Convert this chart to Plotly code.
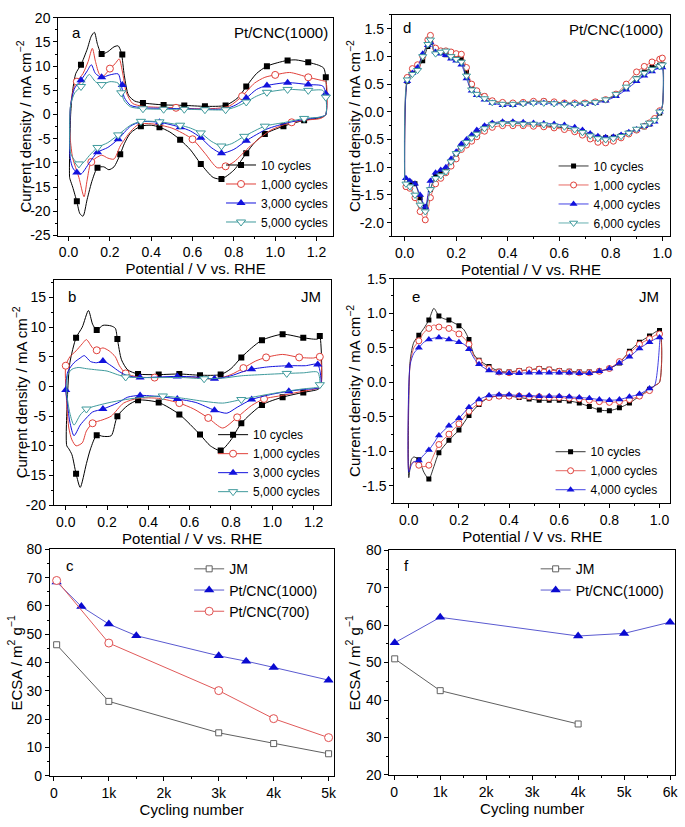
import plotly.graph_objects as go

FONT = "Liberation Sans, Arial, sans-serif"
W, H = 685, 827

# ======================= DATA =======================
# ---- panel a : Pt/CNC(1000), CV curves (potential V, current mA cm-2)
A10_UP_X = [0.005, 0.01, 0.02, 0.035, 0.06, 0.09, 0.11, 0.125, 0.14, 0.16, 0.19, 0.22, 0.24, 0.255, 0.27, 0.29, 0.32, 0.36, 0.46, 0.56, 0.66, 0.76, 0.82, 0.86, 0.91, 0.96, 1.01, 1.06, 1.10, 1.16, 1.21, 1.235, 1.245]
A10_UP_Y = [-13, 0, 5, 8.5, 10.3, 13.5, 16.2, 17.0, 14.5, 12.5, 13.0, 14.0, 14.2, 12.8, 8, 4, 2.8, 2.4, 2.0, 1.9, 1.7, 1.9, 3.5, 5.8, 8.5, 10.0, 10.7, 11.2, 11.3, 10.8, 10.2, 9.6, 7.7]
A10_DN_X = [1.245, 1.23, 1.2, 1.14, 1.04, 0.95, 0.9, 0.86, 0.8, 0.74, 0.7, 0.64, 0.59, 0.54, 0.49, 0.44, 0.4, 0.35, 0.3, 0.27, 0.25, 0.22, 0.195, 0.17, 0.14, 0.115, 0.09, 0.07, 0.055, 0.04, 0.02, 0.008, 0.005]
A10_DN_Y = [0.0, -0.5, -0.8, -1.2, -2.4, -4.0, -5.8, -8.0, -11.5, -13.3, -13.0, -10.2, -7.3, -5.2, -3.6, -2.6, -2.2, -2.4, -3.8, -6.0, -8.2, -10.8, -11.4, -10.8, -11.0, -13.5, -17.5, -21.0, -20.5, -18.0, -15.0, -13.5, -13.0]
A10_MX = [0.06, 0.16, 0.26, 0.36, 0.46, 0.56, 0.66, 0.76, 0.86, 0.96, 1.06, 1.16, 1.245, 1.14, 1.04, 0.95, 0.86, 0.74, 0.64, 0.54, 0.44, 0.35, 0.25, 0.14, 0.04]
A10_MY = [10.3, 12.5, 12.4, 2.4, 2.0, 1.9, 1.7, 1.9, 5.8, 10.0, 11.2, 10.8, 7.7, -1.2, -2.4, -4.0, -8.0, -13.3, -10.2, -5.2, -2.6, -2.4, -8.2, -11.0, -17.9]

A1K_UP_X = [0.005, 0.01, 0.025, 0.04, 0.07, 0.095, 0.115, 0.13, 0.15, 0.17, 0.2, 0.225, 0.245, 0.26, 0.28, 0.31, 0.36, 0.44, 0.52, 0.62, 0.72, 0.78, 0.84, 0.9, 0.95, 1.0, 1.07, 1.16, 1.23, 1.245]
A1K_UP_Y = [-3, 2, 5.5, 6.8, 8.5, 11, 13.7, 11.0, 8.3, 8.0, 9.5, 10.5, 11.5, 9.0, 4.5, 2.3, 1.7, 1.5, 1.4, 1.2, 1.3, 1.8, 3.8, 6.5, 7.7, 8.2, 8.7, 7.7, 7.0, 6.8]
A1K_DN_X = [1.245, 1.22, 1.16, 1.08, 0.98, 0.88, 0.8, 0.76, 0.72, 0.66, 0.6, 0.5, 0.4, 0.34, 0.3, 0.25, 0.22, 0.19, 0.16, 0.11, 0.09, 0.075, 0.05, 0.02, 0.008, 0.005]
A1K_DN_Y = [0.0, -0.8, -1.1, -1.6, -3.2, -6.5, -9.8, -10.7, -11.0, -8.0, -5.1, -2.8, -1.9, -2.0, -3.5, -6.5, -9.2, -9.0, -8.4, -9.8, -13.5, -17.0, -13.0, -9.0, -5.0, -3.0]
A1K_MX = [0.04, 0.2, 0.52, 0.84, 1.0, 1.16, 1.08, 0.76, 0.6, 0.11]
A1K_MY = [6.8, 9.5, 1.4, 3.8, 8.2, 7.7, -1.6, -10.7, -5.1, -9.8]

A3K_UP_X = [0.005, 0.01, 0.03, 0.06, 0.09, 0.11, 0.13, 0.16, 0.2, 0.24, 0.255, 0.27, 0.3, 0.36, 0.46, 0.56, 0.66, 0.76, 0.81, 0.86, 0.91, 0.96, 1.06, 1.16, 1.23, 1.245]
A3K_UP_Y = [-5, 2, 5.5, 7.1, 9.0, 10.3, 8.5, 7.7, 8.2, 8.4, 6.1, 3.5, 1.9, 1.4, 1.3, 1.2, 1.1, 1.2, 2.0, 3.4, 5.2, 6.0, 6.6, 6.2, 5.9, 4.3]
A3K_DN_X = [1.245, 1.22, 1.14, 1.06, 0.96, 0.86, 0.8, 0.74, 0.69, 0.64, 0.59, 0.54, 0.44, 0.35, 0.3, 0.24, 0.19, 0.14, 0.1, 0.06, 0.04, 0.02, 0.008, 0.005]
A3K_DN_Y = [0.0, -0.5, -1.0, -1.7, -3.0, -5.4, -7.2, -8.0, -6.8, -4.8, -3.4, -2.6, -1.6, -1.5, -2.4, -5.1, -6.8, -7.8, -10.0, -12.3, -12.0, -11.0, -9.0, -5.0]
A3K_MX = [0.06, 0.16, 0.26, 0.86, 0.96, 1.06, 1.16, 1.245, 0.86, 0.74, 0.64, 0.54, 0.44, 0.24, 0.14, 0.04]
A3K_MY = [7.1, 7.7, 6.1, 3.4, 6.0, 6.6, 6.2, 4.3, -5.4, -8.0, -4.8, -2.6, -1.6, -5.1, -7.8, -12.0]

A5K_UP_X = [0.005, 0.01, 0.03, 0.06, 0.08, 0.10, 0.13, 0.16, 0.2, 0.24, 0.255, 0.27, 0.3, 0.36, 0.46, 0.56, 0.66, 0.76, 0.81, 0.86, 0.91, 0.96, 1.06, 1.16, 1.23, 1.245]
A5K_UP_Y = [-4, 2, 4.5, 5.8, 7.2, 8.3, 6.8, 6.2, 6.8, 6.5, 4.5, 2.8, 1.6, 1.2, 1.1, 1.1, 1.0, 1.0, 1.6, 2.6, 3.8, 4.6, 5.2, 5.0, 5.0, 3.6]
A5K_DN_X = [1.245, 1.22, 1.14, 1.05, 0.95, 0.85, 0.79, 0.74, 0.69, 0.64, 0.59, 0.54, 0.44, 0.35, 0.3, 0.24, 0.19, 0.14, 0.1, 0.07, 0.05, 0.03, 0.01, 0.005]
A5K_DN_Y = [0.0, -0.5, -0.8, -1.6, -2.4, -4.5, -6.0, -6.5, -5.5, -3.8, -2.8, -2.2, -1.5, -1.4, -2.2, -4.2, -5.8, -6.8, -8.5, -10.0, -10.2, -9.5, -8.0, -4.0]
A5K_MX = [0.06, 0.16, 0.255, 0.36, 0.46, 0.56, 0.66, 0.76, 0.86, 0.96, 1.06, 1.16, 1.245, 1.14, 0.95, 0.85, 0.74, 0.64, 0.54, 0.44, 0.35, 0.24, 0.14, 0.05]
A5K_MY = [5.8, 6.2, 4.5, 1.2, 1.1, 1.1, 1.0, 1.0, 2.6, 4.6, 5.2, 5.0, 3.6, -0.8, -2.4, -4.5, -6.5, -3.8, -2.2, -1.5, -1.4, -4.2, -6.8, -10.2]

# ---- panel b : JM, CV curves
B10_UP_X = [0.005, 0.008, 0.02, 0.05, 0.08, 0.11, 0.13, 0.15, 0.18, 0.22, 0.24, 0.25, 0.27, 0.3, 0.35, 0.45, 0.55, 0.65, 0.75, 0.8, 0.85, 0.9, 0.95, 1.05, 1.15, 1.22, 1.23]
B10_UP_Y = [-10, -2, 4, 8.2, 10, 12.8, 10.5, 9.5, 10.3, 10.2, 9.8, 8.0, 4.5, 2.8, 2.1, 2.0, 2.1, 1.9, 2.0, 3.0, 4.9, 6.5, 7.8, 8.8, 8.2, 8.0, 8.5]
B10_DN_X = [1.235, 1.22, 1.15, 1.05, 0.95, 0.85, 0.8, 0.75, 0.7, 0.65, 0.55, 0.45, 0.35, 0.3, 0.25, 0.22, 0.18, 0.15, 0.12, 0.1, 0.07, 0.05, 0.03, 0.015, 0.005]
B10_DN_Y = [0.0, -0.5, -1.0, -1.8, -3.1, -6.2, -9.0, -10.8, -10.0, -8.1, -4.7, -2.7, -2.3, -3.2, -5.0, -8.3, -8.4, -8.2, -10.5, -13.0, -17.0, -14.7, -11.5, -10.5, -10.0]
B10_MX = [0.05, 0.15, 0.25, 0.35, 0.45, 0.55, 0.65, 0.75, 0.85, 0.95, 1.05, 1.15, 1.23, 1.15, 1.05, 0.95, 0.85, 0.75, 0.65, 0.55, 0.45, 0.35, 0.25, 0.15, 0.05]
B10_MY = [8.2, 9.5, 8.0, 2.1, 2.0, 2.1, 1.9, 2.0, 4.9, 7.8, 8.8, 8.2, 8.5, -1.0, -1.8, -3.1, -6.2, -10.8, -8.1, -4.7, -2.7, -2.3, -5.0, -8.2, -14.7]

B1K_UP_X = [0.0, 0.02, 0.05, 0.08, 0.10, 0.13, 0.15, 0.18, 0.21, 0.24, 0.26, 0.29, 0.35, 0.43, 0.55, 0.65, 0.72, 0.8, 0.86, 0.92, 0.97, 1.05, 1.13, 1.2, 1.23]
B1K_UP_Y = [3.5, 5.0, 6.0, 7.2, 7.9, 6.5, 6.1, 6.5, 6.0, 5.0, 3.5, 2.2, 1.6, 1.5, 1.6, 1.5, 1.2, 2.0, 3.1, 4.3, 4.9, 5.4, 4.9, 4.8, 5.0]
B1K_DN_X = [1.235, 1.22, 1.12, 1.05, 0.96, 0.9, 0.83, 0.76, 0.69, 0.62, 0.55, 0.45, 0.35, 0.28, 0.22, 0.18, 0.13, 0.1, 0.08, 0.05, 0.03, 0.015, 0.005, 0.0]
B1K_DN_Y = [0.0, -0.3, -1.0, -1.5, -2.1, -3.2, -5.2, -7.0, -5.3, -3.8, -2.8, -2.0, -2.0, -2.8, -5.0, -5.6, -6.2, -7.5, -9.5, -10.0, -9.0, -7.0, -3.0, 3.5]
B1K_MX = [0.0, 0.15, 0.29, 0.43, 0.86, 0.97, 1.13, 1.23, 0.96, 0.83, 0.69, 0.55, 0.13]
B1K_MY = [3.5, 6.1, 2.2, 1.5, 3.1, 4.9, 4.9, 5.0, -2.1, -5.2, -5.3, -2.8, -6.2]

B3K_UP_X = [0.0, 0.01, 0.04, 0.07, 0.09, 0.12, 0.15, 0.18, 0.22, 0.26, 0.3, 0.36, 0.45, 0.54, 0.63, 0.72, 0.8, 0.85, 0.9, 0.98, 1.08, 1.16, 1.22]
B3K_UP_Y = [-0.6, 2.5, 4.0, 4.8, 5.2, 4.2, 4.0, 4.3, 3.5, 2.5, 1.8, 1.5, 1.6, 1.7, 1.6, 1.3, 1.8, 2.4, 2.9, 3.3, 3.5, 3.5, 3.7]
B3K_DN_X = [1.235, 1.22, 1.15, 1.08, 1.0, 0.9, 0.83, 0.78, 0.72, 0.63, 0.54, 0.45, 0.36, 0.3, 0.25, 0.18, 0.13, 0.1, 0.07, 0.04, 0.02, 0.005, 0.0]
B3K_DN_Y = [0.0, -0.3, -0.5, -0.8, -1.3, -2.2, -3.5, -4.5, -4.0, -2.7, -2.1, -1.7, -1.5, -1.8, -2.8, -3.8, -4.3, -5.3, -6.5, -8.3, -6.0, -2.0, -0.6]
B3K_MX = [0.0, 0.18, 0.36, 0.54, 0.72, 0.9, 1.08, 1.22, 1.08, 0.9, 0.72, 0.54, 0.36, 0.18]
B3K_MY = [-0.6, 4.3, 1.5, 1.7, 1.3, 2.9, 3.5, 3.7, -0.8, -2.2, -4.0, -2.1, -1.5, -3.8]

B5K_UP_X = [0.005, 0.01, 0.03, 0.06, 0.1, 0.15, 0.2, 0.25, 0.29, 0.38, 0.47, 0.57, 0.67, 0.76, 0.85, 0.95, 1.07, 1.15, 1.22, 1.23]
B5K_UP_Y = [-1.0, 2.0, 2.9, 3.2, 3.0, 2.8, 2.6, 2.0, 1.6, 1.5, 1.5, 1.5, 1.3, 1.4, 1.8, 2.0, 2.2, 2.3, 2.4, 0.3]
B5K_DN_X = [1.22, 1.15, 1.07, 1.0, 0.92, 0.85, 0.76, 0.67, 0.57, 0.47, 0.38, 0.29, 0.2, 0.1, 0.07, 0.04, 0.02, 0.005]
B5K_DN_Y = [-0.1, -0.4, -0.8, -1.2, -1.7, -2.2, -2.8, -2.5, -2.0, -1.6, -1.8, -2.2, -2.8, -3.8, -4.8, -6.5, -4.5, -1.0]
B5K_MX = [0.29, 0.67, 1.07, 1.23, 0.85, 0.47, 0.1]
B5K_MY = [1.6, 1.3, 2.2, 0.3, -2.2, -1.6, -3.8]

# ---- panel d : Pt/CNC(1000), potential grids for anodic / cathodic sweeps
D_UP_X = [0.0, 0.01, 0.03, 0.05, 0.07, 0.09, 0.10, 0.12, 0.14, 0.16, 0.18, 0.20, 0.22, 0.24, 0.26, 0.28, 0.31, 0.34, 0.38, 0.42, 0.46, 0.50, 0.54, 0.58, 0.62, 0.66, 0.70, 0.74, 0.78, 0.82, 0.86, 0.90, 0.93, 0.96, 0.99, 1.0]
D_DN_X = [1.0, 0.99, 0.97, 0.95, 0.93, 0.90, 0.87, 0.84, 0.81, 0.78, 0.75, 0.72, 0.69, 0.66, 0.62, 0.58, 0.54, 0.50, 0.46, 0.42, 0.38, 0.34, 0.31, 0.28, 0.26, 0.24, 0.22, 0.20, 0.18, 0.16, 0.14, 0.12, 0.10, 0.08, 0.06, 0.04, 0.02, 0.005]
D10_UP = [-1.4, 0.55, 0.72, 0.80, 0.92, 1.18, 1.25, 1.12, 1.07, 1.03, 1.00, 0.97, 0.96, 0.72, 0.45, 0.36, 0.28, 0.20, 0.16, 0.15, 0.16, 0.18, 0.19, 0.17, 0.16, 0.15, 0.16, 0.18, 0.22, 0.30, 0.45, 0.60, 0.72, 0.80, 0.84, 0.85]
D1K_UP = [-1.4, 0.62, 0.78, 0.85, 1.0, 1.3, 1.38, 1.15, 1.1, 1.1, 1.08, 1.05, 1.04, 0.8, 0.5, 0.38, 0.28, 0.2, 0.17, 0.16, 0.17, 0.19, 0.19, 0.18, 0.16, 0.16, 0.16, 0.18, 0.22, 0.32, 0.5, 0.72, 0.82, 0.9, 0.95, 0.97]
D4K_UP = [-1.2, 0.55, 0.7, 0.8, 1.05, 1.2, 1.25, 1.08, 1.05, 1.02, 0.96, 0.92, 0.85, 0.6, 0.38, 0.3, 0.22, 0.16, 0.12, 0.12, 0.15, 0.16, 0.16, 0.15, 0.15, 0.14, 0.14, 0.16, 0.2, 0.28, 0.4, 0.55, 0.65, 0.73, 0.8, 0.8]
D6K_UP = [-1.3, 0.58, 0.68, 0.75, 1.0, 1.22, 1.3, 1.05, 1.08, 1.1, 1.0, 0.95, 0.9, 0.65, 0.4, 0.32, 0.24, 0.17, 0.14, 0.14, 0.15, 0.16, 0.16, 0.15, 0.14, 0.14, 0.15, 0.17, 0.22, 0.32, 0.45, 0.6, 0.7, 0.77, 0.82, 0.85]
D10_DN = [0.1, -0.02, -0.15, -0.22, -0.27, -0.33, -0.38, -0.43, -0.46, -0.47, -0.46, -0.42, -0.36, -0.32, -0.29, -0.27, -0.25, -0.23, -0.21, -0.2, -0.2, -0.22, -0.28, -0.38, -0.46, -0.55, -0.62, -0.75, -0.92, -1.05, -1.1, -1.15, -1.4, -1.72, -1.55, -1.3, -1.27, -1.35]
D1K_DN = [0.1, 0.02, -0.12, -0.2, -0.26, -0.33, -0.4, -0.47, -0.53, -0.56, -0.55, -0.49, -0.42, -0.36, -0.32, -0.29, -0.27, -0.26, -0.25, -0.25, -0.25, -0.28, -0.35, -0.45, -0.53, -0.6, -0.68, -0.85, -0.98, -1.1, -1.2, -1.3, -1.55, -1.95, -1.8, -1.55, -1.38, -1.35]
D4K_DN = [0.1, 0.0, -0.18, -0.23, -0.26, -0.32, -0.37, -0.42, -0.45, -0.46, -0.44, -0.39, -0.33, -0.28, -0.24, -0.22, -0.21, -0.2, -0.19, -0.18, -0.18, -0.2, -0.25, -0.33, -0.42, -0.5, -0.58, -0.72, -0.85, -1.0, -1.05, -1.1, -1.25, -1.72, -1.5, -1.3, -1.25, -1.2]
D6K_DN = [0.1, 0.0, -0.15, -0.2, -0.25, -0.31, -0.38, -0.44, -0.48, -0.5, -0.48, -0.43, -0.37, -0.32, -0.27, -0.25, -0.23, -0.22, -0.22, -0.21, -0.21, -0.23, -0.3, -0.4, -0.47, -0.55, -0.65, -0.75, -0.9, -1.08, -1.15, -1.2, -1.4, -1.8, -1.68, -1.5, -1.35, -1.3]

# ---- panel e : JM
E_UP_X = [0.0, 0.005, 0.02, 0.04, 0.06, 0.08, 0.10, 0.12, 0.14, 0.16, 0.18, 0.20, 0.22, 0.24, 0.26, 0.28, 0.32, 0.36, 0.40, 0.44, 0.48, 0.52, 0.56, 0.60, 0.64, 0.68, 0.72, 0.76, 0.80, 0.84, 0.88, 0.92, 0.96, 1.0]
E_DN_X = [1.0, 0.98, 0.96, 0.92, 0.88, 0.84, 0.80, 0.76, 0.72, 0.68, 0.64, 0.60, 0.56, 0.52, 0.48, 0.44, 0.40, 0.36, 0.32, 0.28, 0.24, 0.20, 0.16, 0.12, 0.10, 0.08, 0.06, 0.04, 0.02, 0.01, 0.0]
E10_UP = [-1.38, 0.3, 0.58, 0.68, 0.78, 0.9, 1.07, 0.96, 0.92, 0.9, 0.86, 0.82, 0.76, 0.62, 0.4, 0.32, 0.23, 0.16, 0.15, 0.17, 0.18, 0.2, 0.19, 0.17, 0.16, 0.15, 0.15, 0.16, 0.2, 0.28, 0.45, 0.58, 0.67, 0.75]
E1K_UP = [-1.28, 0.25, 0.5, 0.6, 0.72, 0.78, 0.83, 0.8, 0.79, 0.78, 0.74, 0.7, 0.64, 0.55, 0.38, 0.3, 0.2, 0.15, 0.14, 0.16, 0.18, 0.19, 0.18, 0.16, 0.15, 0.14, 0.14, 0.16, 0.2, 0.3, 0.42, 0.55, 0.63, 0.7]
E4K_UP = [-1.3, 0.25, 0.42, 0.5, 0.58, 0.62, 0.64, 0.65, 0.64, 0.62, 0.6, 0.58, 0.55, 0.48, 0.35, 0.26, 0.17, 0.14, 0.13, 0.13, 0.14, 0.14, 0.14, 0.14, 0.14, 0.13, 0.13, 0.16, 0.2, 0.28, 0.37, 0.49, 0.58, 0.65]
E10_DN = [0.0, -0.05, -0.1, -0.2, -0.3, -0.37, -0.41, -0.4, -0.35, -0.3, -0.27, -0.26, -0.26, -0.26, -0.24, -0.22, -0.2, -0.2, -0.22, -0.32, -0.48, -0.69, -0.84, -1.02, -1.22, -1.4, -1.3, -1.12, -1.08, -1.12, -1.38]
E1K_DN = [0.0, -0.05, -0.12, -0.2, -0.25, -0.28, -0.29, -0.28, -0.26, -0.24, -0.23, -0.22, -0.22, -0.21, -0.21, -0.2, -0.2, -0.2, -0.22, -0.3, -0.42, -0.6, -0.75, -0.9, -1.05, -1.2, -1.22, -1.2, -1.15, -1.18, -1.28]
E4K_DN = [0.55, -0.05, -0.09, -0.17, -0.21, -0.25, -0.26, -0.25, -0.23, -0.22, -0.21, -0.2, -0.2, -0.2, -0.19, -0.19, -0.18, -0.18, -0.19, -0.25, -0.36, -0.52, -0.63, -0.77, -0.88, -0.98, -1.05, -1.13, -1.15, -1.2, -1.3]

# ---- panel c : ECSA vs cycling number
C_JM_X = [50, 1000, 3000, 4000, 5000]
C_JM_Y = [46.3, 26.3, 15.2, 11.4, 7.8]
C_P1000_X = [50, 500, 1000, 1500, 3000, 3500, 4000, 5000]
C_P1000_Y = [68.5, 59.8, 53.6, 49.5, 42.4, 40.5, 38.3, 33.8]
C_P700_X = [50, 1000, 3000, 4000, 5000]
C_P700_Y = [69.0, 46.9, 30.1, 20.2, 13.5]

# ---- panel f
F_JM_X = [10, 1000, 4000]
F_JM_Y = [51.0, 42.5, 33.6]
F_P1000_X = [10, 1000, 4000, 5000, 6000]
F_P1000_Y = [55.3, 62.1, 57.1, 57.8, 60.8]

# ---- tick labels
TV_A_Y = [20, 15, 10, 5, 0, -5, -10, -15, -20, -25]
TV_B_Y = [15, 10, 5, 0, -5, -10, -15, -20]
TV_D_Y = [1.5, 1.0, 0.5, 0.0, -0.5, -1.0, -1.5, -2.0]
TV_E_Y = [1.5, 1.0, 0.5, 0.0, -0.5, -1.0, -1.5]
TV_CV12_X = [0.0, 0.2, 0.4, 0.6, 0.8, 1.0, 1.2]
TV_CV10_X = [0.0, 0.2, 0.4, 0.6, 0.8, 1.0]
TV_C_X = [0, 1000, 2000, 3000, 4000, 5000]
TT_C_X = ["0", "1k", "2k", "3k", "4k", "5k"]
TV_F_X = [0, 1000, 2000, 3000, 4000, 5000, 6000]
TT_F_X = ["0", "1k", "2k", "3k", "4k", "5k", "6k"]

CV4_NAMES = ["10 cycles", "1,000 cycles", "3,000 cycles", "5,000 cycles"]
D_NAMES = ["10 cycles", "1,000 cycles", "4,000 cycles", "6,000 cycles"]
E_NAMES = ["10 cycles", "1,000 cycles", "4,000 cycles"]

# ======================= STYLE =======================
BLACK = "#000000"
RED = "#e0403a"
BLUE = "#1212dd"
TEAL = "#3f9a9c"

def mk(kind, size):
    if kind == "sq":
        return dict(symbol="square", size=size - 1, color=BLACK, line=dict(width=0))
    if kind == "ci":
        return dict(symbol="circle", size=size, color="white", line=dict(color=RED, width=1))
    if kind == "tu":
        return dict(symbol="triangle-up", size=size + 1, color=BLUE, line=dict(width=0))
    return dict(symbol="triangle-down", size=size + 1, color="white", line=dict(color=TEAL, width=1))

STYLES = [(BLACK, "sq"), (RED, "ci"), (BLUE, "tu"), (TEAL, "td")]

def fmt(v, dec):
    return f"{v:.{dec}f}"

fig = go.Figure()

def add_series(xa, ya, leg, name, color, kind, lx, ly, mx, my, msize=7, lw=1.0):
    line = dict(color=color, width=lw, shape="spline", smoothing=0.7)
    fig.add_trace(go.Scatter(x=lx, y=ly, mode="lines", line=line, xaxis=xa, yaxis=ya,
                             showlegend=False, hoverinfo="skip"))
    fig.add_trace(go.Scatter(x=mx, y=my, mode="markers", marker=mk(kind, msize), xaxis=xa, yaxis=ya,
                             showlegend=False))
    fig.add_trace(go.Scatter(x=[None], y=[None], mode="lines+markers", name=name,
                             line=dict(color=color, width=lw), marker=mk(kind, msize),
                             xaxis=xa, yaxis=ya, legend=leg))

# panel a
A_SETS = [(A10_UP_X, A10_UP_Y, A10_DN_X, A10_DN_Y, A10_MX, A10_MY),
          (A1K_UP_X, A1K_UP_Y, A1K_DN_X, A1K_DN_Y, A1K_MX, A1K_MY),
          (A3K_UP_X, A3K_UP_Y, A3K_DN_X, A3K_DN_Y, A3K_MX, A3K_MY),
          (A5K_UP_X, A5K_UP_Y, A5K_DN_X, A5K_DN_Y, A5K_MX, A5K_MY)]
for (ux, uy, dx, dy, mx, my), nm, (col, kind) in zip(A_SETS, CV4_NAMES, STYLES):
    add_series("x", "y", "legend", nm, col, kind, ux + dx, uy + dy, mx, my)

# panel b
B_SETS = [(B10_UP_X, B10_UP_Y, B10_DN_X, B10_DN_Y, B10_MX, B10_MY),
          (B1K_UP_X, B1K_UP_Y, B1K_DN_X, B1K_DN_Y, B1K_MX, B1K_MY),
          (B3K_UP_X, B3K_UP_Y, B3K_DN_X, B3K_DN_Y, B3K_MX, B3K_MY),
          (B5K_UP_X, B5K_UP_Y, B5K_DN_X, B5K_DN_Y, B5K_MX, B5K_MY)]
for (ux, uy, dx, dy, mx, my), nm, (col, kind) in zip(B_SETS, CV4_NAMES, STYLES):
    add_series("x3", "y3", "legend3", nm, col, kind, ux + dx, uy + dy, mx, my)

# panel d (markers on every sampled point except the sweep turning points)
D_SETS = [(D10_UP, D10_DN), (D1K_UP, D1K_DN), (D4K_UP, D4K_DN), (D6K_UP, D6K_DN)]
for (uy, dy), nm, (col, kind) in zip(D_SETS, D_NAMES, STYLES):
    mx = D_UP_X[1:] + D_DN_X[1:]
    my = uy[1:] + dy[1:]
    add_series("x2", "y2", "legend2", nm, col, kind, D_UP_X + D_DN_X, uy + dy, mx, my, msize=6, lw=0.8)

# panel e (markers every 0.04 V)
def on_grid(x):
    q = x / 0.04
    return abs(q - round(q)) < 1e-6 and x > 0.03

E_SETS = [(E10_UP, E10_DN), (E1K_UP, E1K_DN), (E4K_UP, E4K_DN)]
for (uy, dy), nm, (col, kind) in zip(E_SETS, E_NAMES, STYLES):
    mx, my = [], []
    for x, y in zip(E_UP_X, uy):
        if on_grid(x):
            mx.append(x); my.append(y)
    for x, y in list(zip(E_DN_X, dy))[1:]:
        if on_grid(x):
            mx.append(x); my.append(y)
    add_series("x4", "y4", "legend4", nm, col, kind, E_UP_X + E_DN_X, uy + dy, mx, my, msize=6, lw=0.8)

# panels c and f
GRAY = "#606060"
def add_ecsa(xa, ya, leg, name, x, y, lcol, marker):
    fig.add_trace(go.Scatter(x=x, y=y, mode="lines+markers", name=name, xaxis=xa, yaxis=ya, legend=leg,
                             line=dict(color=lcol, width=1), marker=marker))

M_JM = dict(symbol="square", size=6, color="white", line=dict(color=GRAY, width=1))
M_P1000 = dict(symbol="triangle-up", size=9, color="#0a0ad0", line=dict(width=0))
M_P700 = dict(symbol="circle", size=8, color="white", line=dict(color="#e05050", width=1))
add_ecsa("x5", "y5", "legend5", "JM", C_JM_X, C_JM_Y, GRAY, M_JM)
add_ecsa("x5", "y5", "legend5", "Pt/CNC(1000)", C_P1000_X, C_P1000_Y, "#5a5ad0", M_P1000)
add_ecsa("x5", "y5", "legend5", "Pt/CNC(700)", C_P700_X, C_P700_Y, "#e05a5a", M_P700)
add_ecsa("x6", "y6", "legend6", "JM", F_JM_X, F_JM_Y, GRAY, M_JM)
add_ecsa("x6", "y6", "legend6", "Pt/CNC(1000)", F_P1000_X, F_P1000_Y, "#5a5ad0", M_P1000)

# ======================= LAYOUT =======================
def dom_x(p0, p1):
    return [p0 / W, p1 / W]

def dom_y(top, bot):
    return [1 - bot / H, 1 - top / H]

TICKFONT = dict(family=FONT, size=14, color="black")
TITLEFONT = dict(family=FONT, size=15, color="black")

def ax(dom, rng, anchor, title, tickvals, ticktext, minor_dtick, standoff):
    d = dict(domain=dom, range=rng, anchor=anchor, showline=True, linecolor="black", linewidth=1,
             mirror=True, ticks="outside", ticklen=4, tickwidth=1, tickcolor="black",
             showgrid=False, zeroline=False, tickfont=TICKFONT, tickmode="array",
             tickvals=tickvals, ticktext=ticktext,
             minor=dict(ticks="outside", ticklen=2, tickwidth=1, tickcolor="black", dtick=minor_dtick,
                        tick0=0, showgrid=False))
    if title:
        d["title"] = dict(text=title, font=TITLEFONT, standoff=standoff)
    return d

XT = "Potential / V vs. RHE"
YT = "Current density / mA cm<sup>−2</sup>"
ET = "ECSA / m<sup>2</sup> g<sup>−1</sup>"
NT = "Cycling number"

lay = dict(width=W, height=H, margin=dict(l=0, r=0, t=0, b=0), paper_bgcolor="white",
           plot_bgcolor="white", font=dict(family=FONT, size=13, color="black"), showlegend=True)

lay["xaxis"] = ax(dom_x(58.5, 334.5), [-0.05, 1.28], "y", XT, TV_CV12_X, [fmt(v, 1) for v in TV_CV12_X], 0.1, 0)
lay["yaxis"] = ax(dom_y(10, 232), [-25, 20], "x", None, TV_A_Y, [str(v) for v in TV_A_Y], 2.5, 0)
lay["xaxis2"] = ax(dom_x(393.5, 673), [-0.05, 1.03], "y2", XT, TV_CV10_X, [fmt(v, 1) for v in TV_CV10_X], 0.1, 0)
lay["yaxis2"] = ax(dom_y(7, 233), [-2.25, 1.75], "x2", None, TV_D_Y, [fmt(v, 1) for v in TV_D_Y], 0.25, 0)
lay["xaxis3"] = ax(dom_x(54, 332), [-0.058, 1.282], "y3", XT, TV_CV12_X, [fmt(v, 1) for v in TV_CV12_X], 0.1, 1)
lay["yaxis3"] = ax(dom_y(277, 507), [-20, 18], "x3", None, TV_B_Y, [str(v) for v in TV_B_Y], 2.5, 0)
lay["xaxis4"] = ax(dom_x(396, 673), [-0.058, 1.042], "y4", XT, TV_CV10_X, [fmt(v, 1) for v in TV_CV10_X], 0.1, 1)
lay["yaxis4"] = ax(dom_y(276, 505), [-1.75, 1.5], "x4", None, TV_E_Y, [fmt(v, 1) for v in TV_E_Y], 0.25, 0)
lay["xaxis5"] = ax(dom_x(50, 335), [-75, 5090], "y5", NT, TV_C_X, TT_C_X, 500, 3)
lay["yaxis5"] = ax(dom_y(552, 783), [0, 80], "x5", None, list(range(0, 90, 10)), [str(v) for v in range(0, 90, 10)], 5, 0)
lay["xaxis6"] = ax(dom_x(391, 678), [-108, 6108], "y6", NT, TV_F_X, TT_F_X, 500, 3)
lay["yaxis6"] = ax(dom_y(553, 782), [20, 80], "x6", None, list(range(20, 90, 10)), [str(v) for v in range(20, 90, 10)], 5, 0)

def leg(xpx, ypx, anchor, size):
    return dict(x=xpx / W, y=1 - ypx / H, xanchor="left", yanchor=anchor, bgcolor="rgba(0,0,0,0)",
                borderwidth=0, font=dict(family=FONT, size=size, color="black"), tracegroupgap=0,
                itemwidth=30)

lay["legend"] = leg(222, 233, "bottom", 12)
lay["legend2"] = leg(556, 234, "bottom", 12)
lay["legend3"] = leg(214, 508, "bottom", 12)
lay["legend4"] = leg(553, 506, "bottom", 12)
lay["legend5"] = leg(190, 556, "top", 14)
lay["legend6"] = leg(538, 556, "top", 14)

def note(text, xpx, ypx, anchor, angle=0):
    return dict(text=text, x=xpx / W, y=1 - ypx / H, xref="paper", yref="paper", xanchor=anchor,
                yanchor="middle", showarrow=False, textangle=angle,
                font=dict(family=FONT, size=15, color="black"))

lay["annotations"] = [
    note("a", 70, 25, "left"), note("Pt/CNC(1000)", 331, 25, "right"),
    note("d", 403, 20, "left"), note("Pt/CNC(1000)", 668, 22, "right"),
    note("b", 66, 294, "left"), note("JM", 324, 294, "right"),
    note("e", 412, 294, "left"), note("JM", 664, 294, "right"),
    note("c", 64, 568, "left"), note("f", 404, 569, "left"),
    # rotated y-axis titles
    note(YT, 24, 121, "center", -90), note(YT, 355, 120, "center", -90),
    note(YT, 20, 392, "center", -90), note(YT, 355, 390, "center", -90),
    note(ET, 14.5, 667, "center", -90), note(ET, 354, 667, "center", -90),
]

fig.update_layout(**lay)
fig.write_html("out.html", config={"displayModeBar": False},
               post_script="document.body.style.margin='0px';")
